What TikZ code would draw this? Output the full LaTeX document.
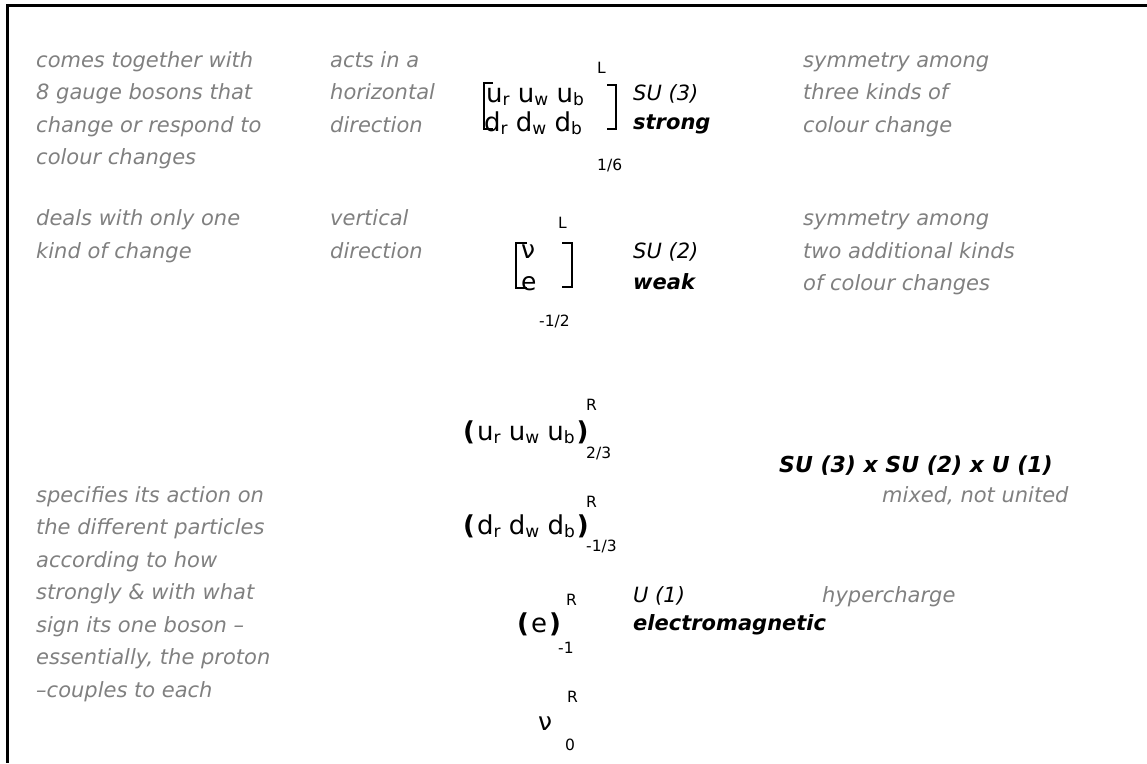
\documentclass[tikz,border=0pt]{standalone}
\usepackage{fontspec}
\setmainfont{DejaVu Sans}
\definecolor{greytext}{RGB}{128,128,128}
\newcommand\sbx[1]{\raisebox{-3pt}{\fontsize{17}{17}\selectfont #1}}
\newcommand\lp{\textbf{(}\kern2pt}
\newcommand\rp{\kern2pt\textbf{)}}
\tikzset{
  gtxt/.style={anchor=base west, inner sep=0pt, text=greytext, font=\fontsize{21}{25}\selectfont\itshape},
  lbl/.style={anchor=base west, inner sep=0pt, font=\fontsize{21}{25}\selectfont\itshape},
  lblb/.style={anchor=base west, inner sep=0pt, font=\fontsize{21}{25}\selectfont\bfseries\itshape},
  fml/.style={anchor=base west, inner sep=0pt, font=\fontsize{26}{30}\selectfont},
  idx/.style={anchor=base west, inner sep=0pt, font=\fontsize{15.5}{18}\selectfont},
  brk/.style={line width=2.5pt, line cap=butt, line join=miter},
  frame/.style={line width=2.6pt, line join=miter}
}
\begin{document}
\begin{tikzpicture}[x=1pt, y=-1pt]
\useasboundingbox (0,0) rectangle (1147,763);
\draw[frame] (1147,5.3) -- (7.5,5.3) -- (7.5,763);

% row 1: grey texts
\foreach \t [count=\i] in {comes together with, 8 gauge bosons that, change or respond to, colour changes}
  \node[gtxt] (a\i) at (36,{67+(\i-1)*32.5}) {\t};
\foreach \t [count=\i] in {acts in a, horizontal, direction}
  \node[gtxt] (b\i) at (330,{67+(\i-1)*32.5}) {\t};
\foreach \t [count=\i] in {symmetry among, three kinds of, colour change}
  \node[gtxt] (c\i) at (803,{67+(\i-1)*32.5}) {\t};

% row 1: matrix
\node[fml] (u1) at (486,102) {u\sbx{r} u\sbx{w} u\sbx{b}};
\node[fml] (d1) at (484,131) {d\sbx{r} d\sbx{w} d\sbx{b}};
\draw[brk] (493,83) -- (484,83) -- (484,129) -- (493,129);
\draw[brk] (607,85) -- (616,85) -- (616,129) -- (607,129);
\node[idx] (L1) at (597,73) {L};
\node[idx] (f1) at (597,170) {1/6};
\node[lbl] (su3) at (633,100) {SU (3)};
\node[lblb] (strong) at (633,129) {strong};

% row 2
\foreach \t [count=\i] in {deals with only one, kind of change}
  \node[gtxt] (e\i) at (36,{225.5+(\i-1)*32.5}) {\t};
\foreach \t [count=\i] in {vertical, direction}
  \node[gtxt] (g\i) at (330,{225.5+(\i-1)*32.5}) {\t};
\foreach \t [count=\i] in {symmetry among, two additional kinds, of colour changes}
  \node[gtxt] (h\i) at (803,{225.5+(\i-1)*32.5}) {\t};
\node[fml, font=\fontsize{25}{30}\selectfont] (nu1) at (521,258) {ν};
\node[fml, font=\fontsize{25}{30}\selectfont] (e1) at (521,290) {e};
\draw[brk] (527,243) -- (516,243) -- (516,288) -- (527,288);
\draw[brk] (562,243) -- (572,243) -- (572,287) -- (562,287);
\node[idx] (L2) at (558,228) {L};
\node[idx] (f2) at (539,326) {-1/2};
\node[lbl] (su2) at (633,258) {SU (2)};
\node[lblb] (weak) at (633,289) {weak};

% row 3
\foreach \t [count=\i] in {specifies its action on, the different particles, according to how, strongly \& with what, sign its one boson –, {essentially, the proton}, –couples to each}
  \node[gtxt] (s\i) at (36,{502+(\i-1)*32.5}) {\t};
\node[fml] (uR) at (463,440) {\lp u\sbx{r} u\sbx{w} u\sbx{b}\rp};
\node[idx] (R1) at (586,410) {R};
\node[idx] (f3) at (586,458) {2/3};
\node[fml] (dR) at (463,534) {\lp d\sbx{r} d\sbx{w} d\sbx{b}\rp};
\node[idx] (R2) at (586,507) {R};
\node[idx] (f4) at (586,551) {-1/3};
\node[fml] (eR) at (517,632) {\lp e\rp};
\node[idx] (R3) at (566,605) {R};
\node[idx] (f5) at (558,653) {-1};
\node[fml, font=\fontsize{25}{30}\selectfont] (nuR) at (538,730) {ν};
\node[idx] (R4) at (567,702) {R};
\node[idx] (f6) at (565,750) {0};
\node[lblb, font=\fontsize{22}{26}\selectfont\bfseries\itshape] (prod) at (779,472) {SU (3) x SU (2) x U (1)};
\node[gtxt] (mix) at (882,502) {mixed, not united};
\node[lbl] (u1l) at (633,602) {U (1)};
\node[lblb] (em) at (633,630) {electromagnetic};
\node[gtxt] (hyp) at (822,602) {hypercharge};
\end{tikzpicture}
\end{document}
